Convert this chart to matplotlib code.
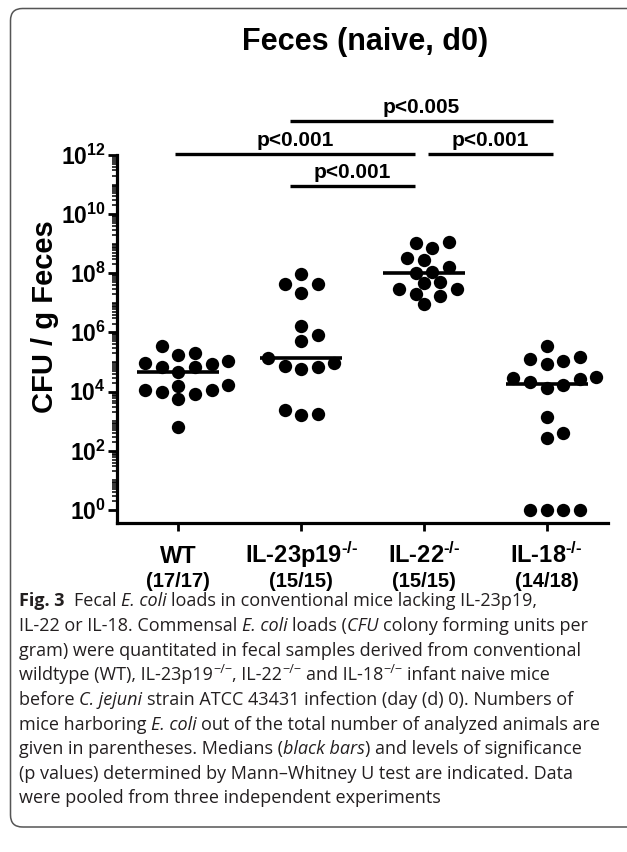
import numpy as np
import matplotlib
matplotlib.use("Agg")
import matplotlib.pyplot as plt
from matplotlib.patches import FancyBboxPatch
from matplotlib.transforms import IdentityTransform
from matplotlib.ticker import FixedLocator, NullFormatter
from matplotlib.font_manager import FontProperties

plt.rcParams['font.family'] = ['Liberation Sans', 'DejaVu Sans']
plt.rcParams['mathtext.fontset'] = 'custom'
plt.rcParams['mathtext.rm'] = 'Liberation Sans:bold'
plt.rcParams['mathtext.bf'] = 'Liberation Sans:bold'
plt.rcParams['mathtext.it'] = 'Liberation Sans:bold:italic'
plt.rcParams['mathtext.sf'] = 'Liberation Sans:bold'

# ---------------- data ----------------
group_names = ["WT", "IL-23p19$^{\\text{-/-}}$", "IL-22$^{\\text{-/-}}$", "IL-18$^{\\text{-/-}}$"]
group_counts = ["(17/17)", "(15/15)", "(15/15)", "(14/18)"]

# log10(CFU / g feces) per animal
wt_log10 = [5.56, 5.31, 5.25, 5.03, 4.97, 4.94, 4.84, 4.84, 4.66, 4.24, 4.20,
            4.07, 4.07, 4.00, 3.92, 3.76, 2.82]
il23p19_log10 = [7.99, 7.65, 7.63, 7.34, 6.21, 5.93, 5.71, 5.14, 4.97, 4.86,
                 4.84, 4.77, 3.39, 3.24, 3.22]
il22_log10 = [9.06, 9.02, 8.84, 8.53, 8.44, 8.21, 8.04, 8.00, 7.71, 7.66, 7.48,
              7.46, 7.29, 7.25, 6.95]
il18_log10 = [5.54, 5.18, 5.11, 5.05, 4.95, 4.50, 4.46, 4.43, 4.33, 4.21, 4.12,
              3.16, 2.60, 2.43, 0.0, 0.0, 0.0, 0.0]
series_log10 = [wt_log10, il23p19_log10, il22_log10, il18_log10]

y_tick_exponents = [0, 2, 4, 6, 8, 10, 12]

# (group a, group b, label, bar height as log10, left trim, right trim)
comparisons = [
    (1, 3, "p<0.005", 13.15, -0.09, 0.05),
    (0, 2, "p<0.001", 12.05, -0.03, -0.07),
    (2, 3, "p<0.001", 12.05, 0.03, 0.05),
    (1, 2, "p<0.001", 10.95, -0.09, -0.07),
]

title = "Feces (naive, d0)"
ylabel = "CFU / g Feces"

caption_lines = [
    [("Fig. 3  ", "b"), ("Fecal ", "r"), ("E. coli ", "i"),
     ("loads in conventional mice lacking IL-23p19,", "r")],
    [("IL-22 or IL-18. Commensal ", "r"), ("E. coli ", "i"), ("loads (", "r"),
     ("CFU ", "i"), ("colony forming units per", "r")],
    [("gram) were quantitated in fecal samples derived from conventional", "r")],
    [("wildtype (WT), IL-23p19", "r"), ("\u2212/\u2212", "s"), (", IL-22", "r"),
     ("\u2212/\u2212", "s"), (" and IL-18", "r"), ("\u2212/\u2212", "s"),
     (" infant naive mice", "r")],
    [("before ", "r"), ("C. jejuni ", "i"),
     ("strain ATCC 43431 infection (day (d) 0). Numbers of", "r")],
    [("mice harboring ", "r"), ("E. coli ", "i"),
     ("out of the total number of analyzed animals are", "r")],
    [("given in parentheses. Medians (", "r"), ("black bars", "i"),
     (") and levels of significance", "r")],
    [("(p values) determined by Mann\u2013Whitney U test are indicated. Data", "r")],
    [("were pooled from three independent experiments", "r")],
]

# ---------------- figure ----------------
W, H = 627, 852
fig = plt.figure(figsize=(W / 100, H / 100), dpi=100)
ax = fig.add_axes([117 / W, (H - 523) / H, 491 / W, 368 / H])

ax.set_yscale('log')
ax.set_xlim(-0.5, 3.5)
ax.set_ylim(10 ** -0.44, 10 ** 12)

for s in ['top', 'right']:
    ax.spines[s].set_visible(False)
for s in ['left', 'bottom']:
    ax.spines[s].set_linewidth(2.3)

major = [10.0 ** e for e in y_tick_exponents]
minor = [m * 10.0 ** e for e in range(0, 12) for m in range(1, 10)
         if not (m == 1 and e in y_tick_exponents)]
ax.yaxis.set_major_locator(FixedLocator(major))
ax.yaxis.set_minor_locator(FixedLocator(minor))
ax.yaxis.set_major_formatter(NullFormatter())
ax.yaxis.set_minor_formatter(NullFormatter())
ax.tick_params(axis='y', which='major', length=6.5, width=2.0)
ax.tick_params(axis='y', which='minor', length=3.5, width=1.1)
ax.set_xticks(range(len(group_names)))
ax.set_xticklabels([])
ax.tick_params(axis='x', which='major', length=6, width=2.0)
ax.tick_params(axis='x', which='minor', length=0)

# y tick labels
for e in y_tick_exponents:
    ax.annotate(f"$10^{{{e}}}$", xy=(0, 10.0 ** e), xycoords=('axes fraction', 'data'),
                xytext=(-8, -7), textcoords='offset points', ha='right', va='baseline',
                fontsize=16.5)

# group labels
for i, (name, cnt) in enumerate(zip(group_names, group_counts)):
    ax.annotate(name, xy=(i, 0), xycoords=('data', 'axes fraction'),
                xytext=(0, -29), textcoords='offset points', ha='center',
                va='baseline', fontsize=17, fontweight='bold')
    ax.annotate(cnt, xy=(i, 0), xycoords=('data', 'axes fraction'),
                xytext=(0, -46), textcoords='offset points', ha='center',
                va='baseline', fontsize=14.5, fontweight='bold')

ax.text(-0.147, 0.56, ylabel, transform=ax.transAxes, rotation=90, ha='center',
        va='center', fontsize=21, fontweight='bold')
ax.text(0.505, 1.307, title, transform=ax.transAxes, ha='center', va='center',
        fontsize=22, fontweight='bold')


# beeswarm-like horizontal spread computed in pixel space
def swarm_x(center, logs, diam=12.8, half_step=8.3):
    vals = 10.0 ** np.asarray(logs, dtype=float)
    tr = ax.transData
    py = np.array([tr.transform((center, v))[1] for v in vals])
    px0 = tr.transform((center, vals[0]))[0]
    cands = [0.0]
    for k in range(1, 30):
        cands += [k * half_step, -k * half_step]
    placed = []
    offs = np.zeros(len(vals))
    for idx in np.argsort(-py)[::-1]:
        for c in cands:
            if all((c - ox) ** 2 + (py[idx] - oy) ** 2 >= diam ** 2 for ox, oy in placed):
                break
        placed.append((c, py[idx]))
        offs[idx] = c
    inv = tr.inverted()
    xs = np.array([inv.transform((px0 + o, py[j]))[0] for j, o in enumerate(offs)])
    return xs, vals


for i, logs in enumerate(series_log10):
    xs, vals = swarm_x(i, logs)
    ax.plot(xs, vals, 'o', ms=9.6, color='black', mew=0, clip_on=False, zorder=3)
    med = np.median(vals)
    ax.plot([i - 0.335, i + 0.335], [med, med], color='black', lw=2.6,
            solid_capstyle='butt', zorder=4)

for a, b, lab, lvl, dl, dr in comparisons:
    y = 10.0 ** lvl
    ax.plot([a + dl, b + dr], [y, y], color='black', lw=2.4, clip_on=False,
            solid_capstyle='butt')
    ax.annotate(lab, xy=((a + dl + b + dr) / 2, y), xycoords='data',
                xytext=(0, 5.5), textcoords='offset points', ha='center',
                va='baseline', fontsize=15, fontweight='bold', annotation_clip=False)

# ---------------- frame box ----------------
box = FancyBboxPatch((10.5, H - 827), 700, 827 - 8.5,
                     boxstyle="round,pad=0,rounding_size=12",
                     transform=IdentityTransform(), fill=False,
                     ec='#555555', lw=1.1)
fig.add_artist(box)

# ---------------- caption ----------------
renderer = fig.canvas.get_renderer()
cap_family = ['Open Sans', 'DejaVu Sans']


def fprop(style, size):
    if style == 'b':
        return FontProperties(family=cap_family, weight='bold', size=size)
    if style == 'i':
        return FontProperties(family=cap_family, style='italic', size=size)
    if style == 's':
        return FontProperties(family=cap_family, size=size * 0.7)
    return FontProperties(family=cap_family, size=size)


def advance(text, prop):
    w1 = renderer.get_text_width_height_descent(text + "x", prop, ismath=False)[0]
    w2 = renderer.get_text_width_height_descent("x", prop, ismath=False)[0]
    return w1 - w2


def line_width(line, size):
    tot = 0
    for txt, st in line:
        tot += advance(txt, fprop(st, size))
    return tot


fs = 10.0 * 583.0 / line_width(caption_lines[5], 10.0)
x0 = 19.0
base0 = 606.5
lead = 24.6
for li, line in enumerate(caption_lines):
    x = x0
    yb = H - (base0 + li * lead)
    for txt, st in line:
        prop = fprop(st, fs)
        stripped = txt.lstrip(' ')
        nlead = len(txt) - len(stripped)
        if nlead:
            x += advance(' ' * nlead, prop)
        dy = fs * 0.42 * 100 / 72 if st == 's' else 0
        fig.text(x, yb + dy, stripped, fontproperties=prop, transform=IdentityTransform(),
                 ha='left', va='baseline', color='#231f20')
        x += advance(stripped, prop)

fig.savefig("out.png", dpi=100)
